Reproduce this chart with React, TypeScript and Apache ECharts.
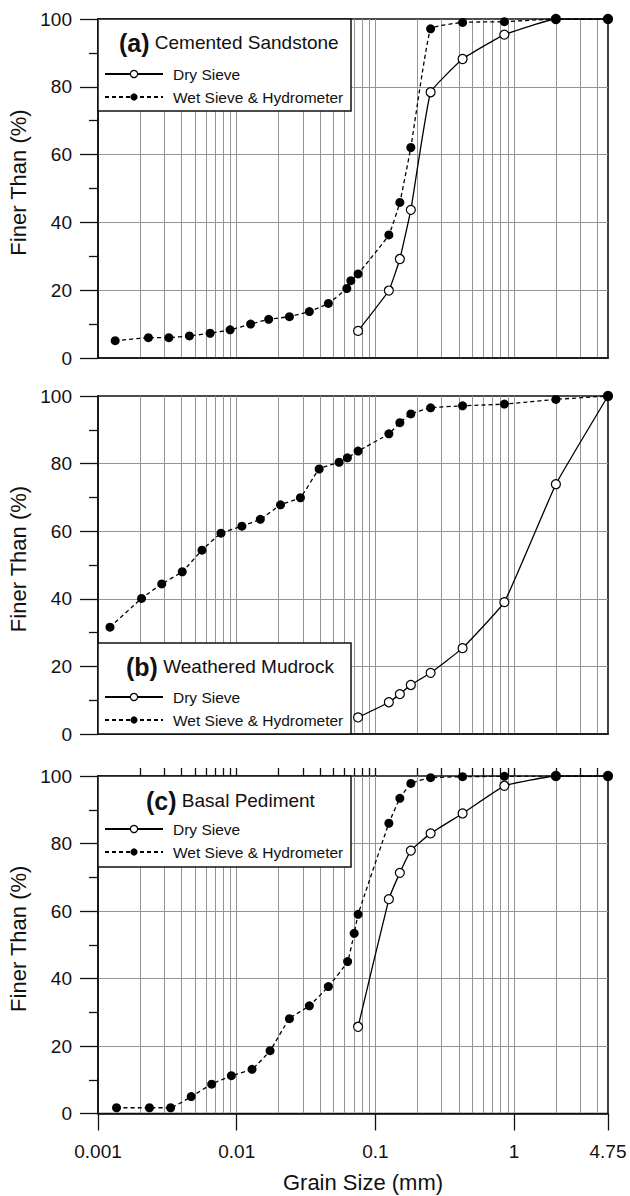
import React, { useEffect, useRef } from "react";
import * as echarts from "echarts";

// ---------- data ----------
const sieveSizes = [0.075, 0.125, 0.15, 0.18, 0.25, 0.425, 0.85, 2, 4.75];

const dryA = [8.0, 19.9, 29.2, 43.7, 78.4, 88.2, 95.4, 100, 100];
const wetASizes = [0.00133, 0.00231, 0.00324, 0.00456, 0.00643, 0.00896, 0.0126, 0.017, 0.024, 0.0334, 0.0458, 0.0622, 0.0665, 0.075, 0.125, 0.15, 0.18, 0.25, 0.425, 0.85, 2, 4.75];
const wetA = [5.1, 6.0, 6.0, 6.5, 7.3, 8.3, 10.0, 11.4, 12.2, 13.7, 16.1, 20.5, 22.8, 24.8, 36.3, 45.9, 62.1, 97.1, 99.0, 99.2, 100, 100];

const dryB = [4.9, 9.4, 11.8, 14.5, 18.1, 25.4, 39.0, 73.9, 100];
const wetBSizes = [0.00122, 0.00206, 0.00288, 0.00405, 0.00562, 0.0077, 0.0109, 0.0148, 0.0207, 0.0288, 0.0393, 0.0547, 0.0628, 0.075, 0.125, 0.15, 0.18, 0.25, 0.425, 0.85, 2, 4.75];
const wetB = [31.6, 40.1, 44.4, 48.0, 54.4, 59.4, 61.5, 63.5, 67.8, 69.9, 78.4, 80.4, 81.7, 83.7, 88.8, 92.1, 94.7, 96.5, 97.1, 97.6, 99.0, 100];

const dryC = [25.7, 63.5, 71.3, 77.9, 83.0, 88.9, 97.1, 100, 100];
const wetCSizes = [0.00136, 0.00235, 0.00334, 0.0047, 0.0066, 0.00915, 0.0129, 0.0174, 0.024, 0.0334, 0.0458, 0.063, 0.0703, 0.075, 0.125, 0.15, 0.18, 0.25, 0.425, 0.85, 2, 4.75];
const wetC = [1.7, 1.7, 1.7, 5.0, 8.7, 11.2, 13.1, 18.6, 28.1, 31.9, 37.6, 45.0, 53.4, 59.0, 86.0, 93.4, 97.8, 99.5, 99.8, 99.9, 100, 100];

const majorTicks = [0.001, 0.01, 0.1, 1, 4.75];
const gridTicks = [
  0.002, 0.003, 0.004, 0.005, 0.006, 0.007, 0.008, 0.009, 0.01,
  0.02, 0.03, 0.04, 0.05, 0.06, 0.07, 0.08, 0.09, 0.1,
  0.2, 0.3, 0.4, 0.5, 0.6, 0.7, 0.8, 0.9, 1,
  2, 3, 4,
];

const panelLetters = ["(a)", "(b)", "(c)"];
const panelNames = ["Cemented Sandstone", "Weathered Mudrock", "Basal Pediment"];
const DRY = "Dry Sieve";
const WET = "Wet Sieve & Hydrometer";

const panelData = [
  { dry: dryA, wetSizes: wetASizes, wet: wetA },
  { dry: dryB, wetSizes: wetBSizes, wet: wetB },
  { dry: dryC, wetSizes: wetCSizes, wet: wetC },
];

// ---------- layout ----------
const FONT = "'Liberation Sans', Arial, Helvetica, sans-serif";
const INK = "#111";
const GRIDC = "#949494";
const layout = [
  { top: 19, height: 339, titleLeft: 119, titleTop: 30, legendTop: 66, boxY: 19, boxH: 92 },
  { top: 396, height: 338, titleLeft: 126, titleTop: 654, legendTop: 689, boxY: 643, boxH: 91 },
  { top: 776, height: 337.5, titleLeft: 146, titleTop: 788, legendTop: 821, boxY: 776, boxH: 91 },
];

function buildOption() {
  const grid: any[] = [];
  const xAxis: any[] = [];
  const yAxis: any[] = [];
  const series: any[] = [];
  const title: any[] = [];
  const legend: any[] = [];
  const graphic: any[] = [];

  layout.forEach((L, k) => {
    const bottom = k === 2;
    grid.push({
      left: 98, top: L.top, width: 510, height: L.height,
      show: true, borderColor: INK, borderWidth: 1.6, backgroundColor: "transparent",
      outerBoundsMode: "none",
    });
    xAxis.push({
      type: "log", logBase: 10, min: 0.001, max: 4.75, gridIndex: k,
      axisLine: { show: true, lineStyle: { color: INK, width: 1.6 } },
      axisTick: { show: bottom, length: 17, inside: false, customValues: majorTicks, lineStyle: { color: INK, width: 1.3 } },
      axisLabel: {
        show: bottom, customValues: majorTicks, formatter: (v: number) => String(v),
        fontSize: 19, color: INK, margin: 28, fontFamily: FONT,
      },
      splitLine: { show: false },
      name: bottom ? "Grain Size (mm)" : "",
      nameLocation: "middle", nameGap: 58,
      nameTextStyle: { fontSize: 22, color: INK, fontFamily: FONT, padding: [0, 0, 0, 20] },
    });
    xAxis.push({
      type: "log", logBase: 10, min: 0.001, max: 4.75, gridIndex: k,
      axisLine: { show: false },
      axisTick: { show: bottom, length: 8, inside: false, customValues: gridTicks, lineStyle: { color: INK, width: 1.3 } },
      axisLabel: { show: false },
      splitLine: { show: true, lineStyle: { color: GRIDC, width: 1 } },
    });
    yAxis.push({
      type: "value", gridIndex: k, min: 0, max: 100, interval: 20,
      axisLine: { show: true, lineStyle: { color: INK, width: 1.6 } },
      axisTick: { show: true, length: 18, lineStyle: { color: INK, width: 1.3 } },
      minorTick: { show: true, splitNumber: 2, length: 9, lineStyle: { color: INK, width: 1.3 } },
      minorSplitLine: { show: false },
      axisLabel: { fontSize: 19, color: INK, margin: 26, fontFamily: FONT },
      splitLine: { show: true, showMinLine: false, showMaxLine: false, lineStyle: { color: GRIDC, width: 1 } },
      name: "Finer Than (%)", nameLocation: "middle", nameGap: 64,
      nameTextStyle: { fontSize: 22, color: INK, fontFamily: FONT, padding: [0, 0, 0, 12] },
    });

    const P = panelData[k];
    series.push({
      name: DRY, type: "line", xAxisIndex: 2 * k, yAxisIndex: k,
      data: sieveSizes.map((s, i) => [s, P.dry[i]]),
      smooth: 0.1, symbol: "circle", symbolSize: 9,
      lineStyle: { color: "#000", width: 1.3, type: "solid" },
      itemStyle: { color: "#fff", borderColor: "#000", borderWidth: 1.2 },
      z: 3,
    });
    series.push({
      name: WET, type: "line", xAxisIndex: 2 * k, yAxisIndex: k,
      data: P.wetSizes.map((s, i) => [s, P.wet[i]]),
      smooth: 0.1, symbol: "circle", symbolSize: 9,
      lineStyle: { color: "#000", width: 1.3, type: [4, 3] },
      itemStyle: { color: "#000", borderColor: "#000", borderWidth: 0 },
      z: 4,
    });

    title.push({
      text: `{b|${panelLetters[k]}} {r|${panelNames[k]}}`,
      left: L.titleLeft, top: L.titleTop, padding: 0,
      textStyle: {
        fontSize: 19, color: INK, fontFamily: FONT, fontWeight: "normal",
        rich: {
          b: { fontSize: 25, fontWeight: "bold", color: INK, fontFamily: FONT },
          r: { fontSize: 19, color: INK, fontFamily: FONT },
        },
      },
    });
    legend.push({
      orient: "vertical", left: 104, top: L.legendTop, padding: 0, itemGap: 7,
      itemWidth: 58, itemHeight: 9, selectedMode: false,
      data: [
        { name: DRY, itemStyle: { color: "#fff", borderColor: "#000", borderWidth: 1.2 } },
        { name: WET, itemStyle: { color: "#000", borderWidth: 0 } },
      ],
      textStyle: { fontSize: 15.5, color: INK, fontFamily: FONT, lineHeight: 16, padding: [0, 0, 0, 5] },
    });
    graphic.push({
      type: "rect", z: 1,
      shape: { x: 98, y: L.boxY, width: 253, height: L.boxH },
      style: { fill: "#fff", stroke: INK, lineWidth: 1.5 },
      silent: true,
    });
  });

  return {
    animation: false,
    backgroundColor: "#fff",
    textStyle: { fontFamily: FONT },
    grid, xAxis, yAxis, series, title, legend, graphic,
  };
}

export default function App() {
  const ref = useRef<HTMLDivElement>(null);
  useEffect(() => {
    if (!ref.current) return;
    const chart = echarts.init(ref.current, null, { renderer: "svg" });
    chart.setOption(buildOption() as any);
    return () => chart.dispose();
  }, []);
  return (
    <div
      ref={ref}
      style={{ position: "absolute", left: 0, top: 0, width: 630, height: 1196 }}
    />
  );
}
